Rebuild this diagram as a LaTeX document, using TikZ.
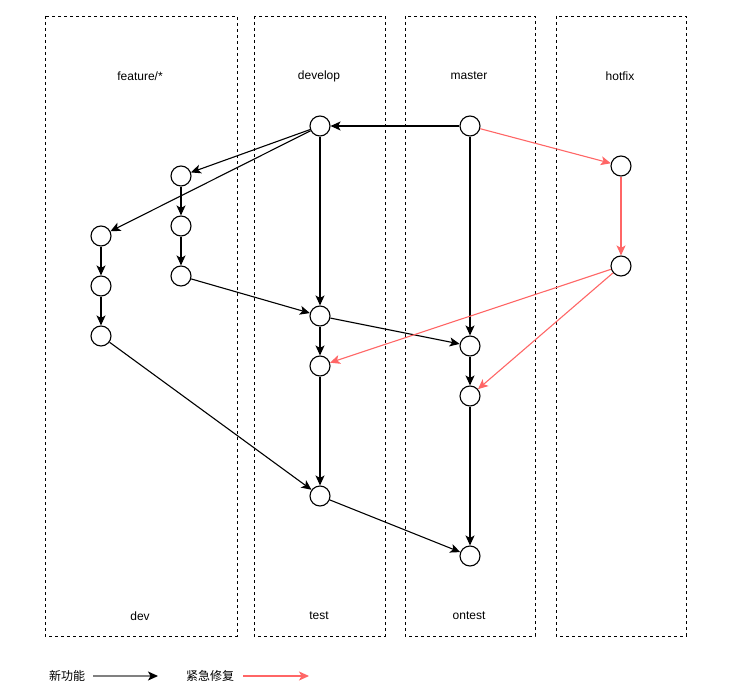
\documentclass[tikz,border=0pt]{standalone}
\usepackage{fontspec}
\setmainfont{Liberation Sans}
\newfontfamily\cjk{Noto Sans CJK SC}
\usetikzlibrary{arrows.meta}
\definecolor{hotred}{HTML}{FF6666}
\begin{document}
\begin{tikzpicture}[x=1pt,y=-1pt,
  commit/.style={circle,draw,line width=1.1pt,minimum size=20pt,inner sep=0pt},
  lane/.style={draw,line width=0.9pt,dash pattern=on 3pt off 3pt},
  lbl/.style={font=\fontsize{12}{14}\selectfont,inner sep=0pt},
  flow/.style={line width=1.1pt,-{Stealth[length=10pt,width=9pt,inset=2.5pt]}},
  fix/.style={flow,draw=hotred,-{Stealth[length=10pt,width=9pt,inset=2.5pt,hotred]}}]
\useasboundingbox (0,0) rectangle (738,687);
% lanes
\draw[lane] (45,16) rectangle (237,636);
\draw[lane] (254,16) rectangle (385,636);
\draw[lane] (405,16) rectangle (535,636);
\draw[lane] (556,16) rectangle (686,636);
% titles
\node[lbl] (tf) at (140,76) {feature/*};
\node[lbl] (td) at (319,76) {develop};
\node[lbl] (tm) at (469,76) {master};
\node[lbl] (th) at (620,76) {hotfix};
\node[lbl] (bd) at (140,616) {dev};
\node[lbl] (bt) at (319,616) {test};
\node[lbl] (bo) at (469,616) {ontest};
% commits
\node[commit] (d1) at (320,126) {};
\node[commit] (m1) at (470,126) {};
\node[commit] (h1) at (621,166) {};
\node[commit] (h2) at (621,266) {};
\node[commit] (f1) at (181,176) {};
\node[commit] (f2) at (181,226) {};
\node[commit] (f3) at (181,276) {};
\node[commit] (g1) at (101,236) {};
\node[commit] (g2) at (101,286) {};
\node[commit] (g3) at (101,336) {};
\node[commit] (d2) at (320,316) {};
\node[commit] (d3) at (320,366) {};
\node[commit] (d4) at (320,496) {};
\node[commit] (m2) at (470,346) {};
\node[commit] (m3) at (470,396) {};
\node[commit] (m4) at (470,556) {};
% black edges
\draw[flow] (m1) -- (d1);
\draw[flow] (d1) -- (f1);
\draw[flow] (d1) -- (g1);
\draw[flow] (f1) -- (f2);
\draw[flow] (f2) -- (f3);
\draw[flow] (g1) -- (g2);
\draw[flow] (g2) -- (g3);
\draw[flow] (f3) -- (d2);
\draw[flow] (d1) -- (d2);
\draw[flow] (m1) -- (m2);
\draw[flow] (d2) -- (d3);
\draw[flow] (d2) -- (m2);
\draw[flow] (m2) -- (m3);
\draw[flow] (d3) -- (d4);
\draw[flow] (g3) -- (d4);
\draw[flow] (m3) -- (m4);
\draw[flow] (d4) -- (m4);
% red edges
\draw[fix] (m1) -- (h1);
\draw[fix] (h1) -- (h2);
\draw[fix] (h2) -- (d3);
\draw[fix] (h2) -- (m3);
% legend
\node[lbl,font=\cjk\fontsize{12}{14}\selectfont] (ln) at (67,676) {新功能};
\node[lbl,font=\cjk\fontsize{12}{14}\selectfont] (lh) at (210,676) {紧急修复};
\coordinate (la1) at (93,676);
\coordinate (la2) at (158,676);
\coordinate (lb1) at (243,676);
\coordinate (lb2) at (309,676);
\draw[line width=1.1pt,draw=gray,-{Stealth[length=10pt,width=9pt,inset=2.5pt,black]}] (la1) -- (la2);
\draw[fix] (lb1) -- (lb2);
\end{tikzpicture}
\end{document}
